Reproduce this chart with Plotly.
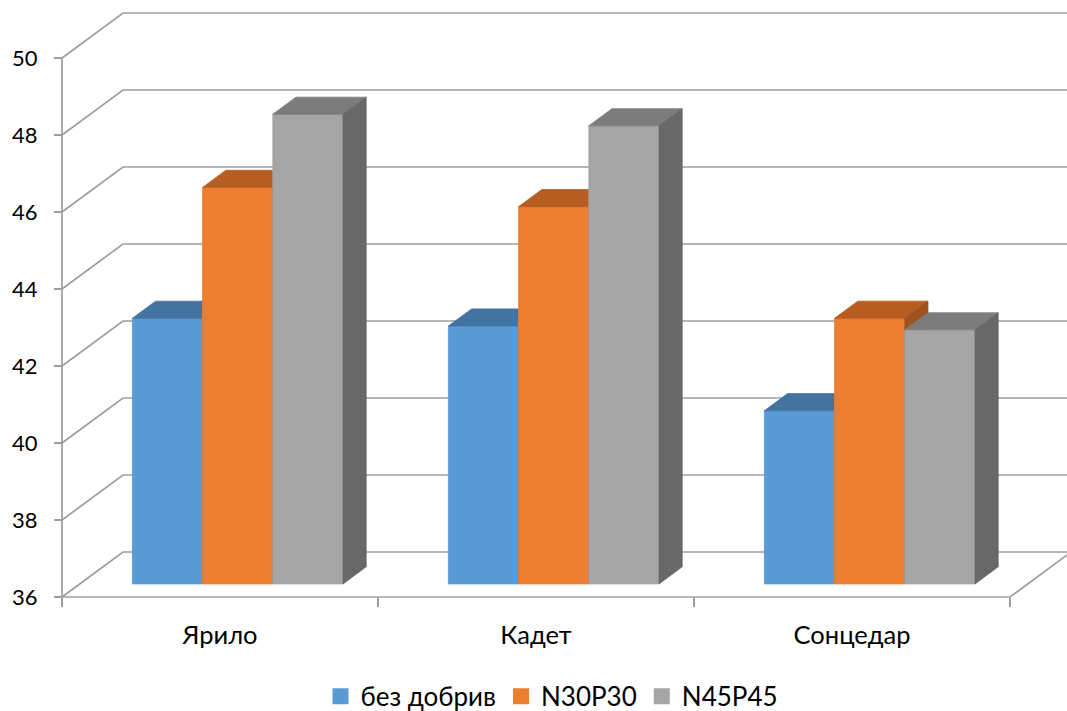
import plotly.graph_objects as go

# ---- data ----
categories = ["Ярило", "Кадет", "Сонцедар"]
series_names = ["без добрив", "N30P30", "N45P45"]
bez_dobryv = [42.9, 42.7, 40.5]
n30p30 = [46.3, 45.8, 42.9]
n45p45 = [48.2, 47.9, 42.6]
y_ticks = [36, 38, 40, 42, 44, 46, 48, 50]

series_values = [bez_dobryv, n30p30, n45p45]

# ---- styling ----
front_colors = ["#5B9BD5", "#ED7D31", "#A5A5A5"]
top_colors = ["#44739F", "#B65E22", "#7C7C7C"]
side_colors = ["#3E6891", "#A0521D", "#686868"]
grid_color = "#9E9E9E"
font_family = "Lato, Carlito, Calibri, sans-serif"

# ---- geometry of the pseudo-3D box (pixels) ----
W, H = 1067, 711
PLOT_L, PLOT_R, PLOT_T, PLOT_B = 50, 1067, 0, 605
ORIGIN_X, ORIGIN_Y = 62, 597          # front-left corner of the floor
PX_PER_CAT = 316                      # width of one category slot
PX_PER_UNIT = 38.5                    # pixels per value unit
DEPTH_PX_X, DEPTH_PX_Y = 61, 45       # oblique offset of the back wall
GAP_WIDTH = 1.5                       # gap between groups, relative to a bar
DEPTH_FRONT, DEPTH_BACK = 0.29, 0.67  # bar position inside the box depth

# convert to axis units
DX = DEPTH_PX_X / PX_PER_CAT
DY = DEPTH_PX_Y / PX_PER_UNIT
x_min = (PLOT_L - ORIGIN_X) / PX_PER_CAT
x_max = (PLOT_R - ORIGIN_X) / PX_PER_CAT
base = y_ticks[0]
y_min = base - (PLOT_B - ORIGIN_Y) / PX_PER_UNIT
y_max = base + (ORIGIN_Y - PLOT_T) / PX_PER_UNIT

n_cat = len(categories)
n_ser = len(series_values)
group_w = n_ser / (n_ser + GAP_WIDTH)
bar_w = group_w / n_ser

fig = go.Figure()

def poly(xs, ys, color, line_color=None, width=0.8):
    fig.add_trace(go.Scatter(
        x=xs + [xs[0]], y=ys + [ys[0]], mode="lines", fill="toself",
        fillcolor=color, line=dict(color=line_color or color, width=width),
        hoverinfo="skip", showlegend=False))

def line(xs, ys):
    fig.add_trace(go.Scatter(
        x=xs, y=ys, mode="lines", line=dict(color=grid_color, width=1.7),
        hoverinfo="skip", showlegend=False))

# side wall + back wall gridlines
for v in y_ticks:
    line([0, DX, x_max + 1], [v, v + DY, v + DY])

# front edge and right edge of the floor
line([0, n_cat, n_cat + DX], [base, base, base + DY])
# vertical value axis line
line([0, 0], [y_ticks[0], y_ticks[-1]])

# 3D columns, drawn left to right so nearer faces cover farther ones
sx0, sy0 = DEPTH_FRONT * DX, DEPTH_FRONT * DY
dxb, dyb = (DEPTH_BACK - DEPTH_FRONT) * DX, (DEPTH_BACK - DEPTH_FRONT) * DY
for i in range(n_cat):
    for s in range(n_ser):
        v = series_values[s][i]
        x0 = i + 0.5 - group_w / 2 + s * bar_w + sx0
        x1 = x0 + bar_w
        yb = base + sy0
        yt = v + sy0
        poly([x0, x1, x1, x0], [yb, yb, yt, yt], front_colors[s])
        poly([x0, x1, x1 + dxb, x0 + dxb], [yt, yt, yt + dyb, yt + dyb], top_colors[s])
        poly([x1, x1 + dxb, x1 + dxb, x1], [yb, yb + dyb, yt + dyb, yt], side_colors[s])

# legend entries
for s in range(n_ser):
    fig.add_trace(go.Scatter(
        x=[None], y=[None], mode="markers", name=series_names[s],
        marker=dict(symbol="square", size=16, color=front_colors[s]),
        showlegend=True))

fig.update_layout(
    width=W, height=H,
    margin=dict(l=PLOT_L, r=W - PLOT_R, t=PLOT_T, b=H - PLOT_B,
                autoexpand=False),
    paper_bgcolor="white", plot_bgcolor="white",
    font=dict(family=font_family, size=22, color="#000000"),
    showlegend=True,
    legend=dict(orientation="h", x=0.4936, xanchor="center",
                y=-0.151, yanchor="middle", font=dict(size=26),
                itemclick=False, itemdoubleclick=False),
    xaxis=dict(
        range=[x_min, x_max], showgrid=False, zeroline=False, showline=False,
        tickvals=[i + 0.5 for i in range(n_cat)], ticktext=categories,
        ticks="", anchor="free", tickfont=dict(size=25.5),
        position=(PLOT_B - ORIGIN_Y) / (PLOT_B - PLOT_T),
        ticklabelstandoff=20,
        minor=dict(tickvals=list(range(n_cat + 1)), ticks="outside",
                   ticklen=9, tickwidth=1.6, tickcolor=grid_color,
                   showgrid=False),
        fixedrange=True),
    yaxis=dict(
        range=[y_min, y_max], showgrid=False, zeroline=False, showline=False,
        tickvals=y_ticks, ticks="outside", ticklen=8, tickwidth=1.6,
        tickcolor=grid_color, anchor="free", tickfont=dict(size=22),
        position=(ORIGIN_X - PLOT_L) / (PLOT_R - PLOT_L),
        ticklabelstandoff=12,
        fixedrange=True),
)

fig.write_html("out.html")
